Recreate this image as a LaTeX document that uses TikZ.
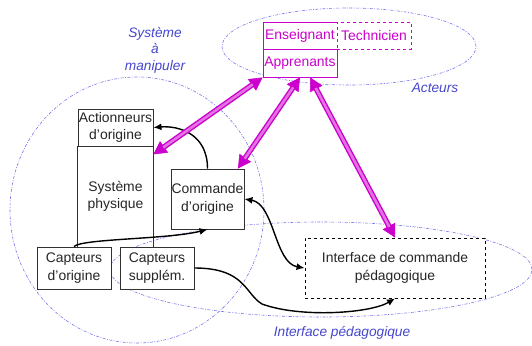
\documentclass[tikz,border=0pt]{standalone}
\usepackage{fontspec}
\setmainfont{Liberation Sans}
\usetikzlibrary{arrows.meta,calc}
\definecolor{mag}{RGB}{204,0,204}
\definecolor{lblue}{RGB}{70,70,205}
\definecolor{eblue}{RGB}{120,120,235}
\definecolor{boxgray}{RGB}{50,50,50}
\tikzset{
  zone/.style={draw=eblue, line width=0.6pt, dash pattern=on 3pt off 1.5pt on 0.8pt off 1.5pt},
  zlabel/.style={text=lblue, font=\fontsize{13.7}{16.5}\selectfont\itshape, align=center, inner sep=0pt},
  blk/.style={draw=boxgray, line width=0.9pt, fill=white, inner sep=0pt, align=center,
              text=black!85, font=\fontsize{13.9}{17.5}\selectfont},
  actbox/.style={draw=mag, line width=0.9pt, fill=white, inner sep=0pt, text=mag,
              font=\fontsize{13.9}{17}\selectfont, minimum width=74pt},
  conn/.style={draw=black, line width=1.4pt, -{Latex[length=8pt,width=7pt]}},
  bconn/.style={draw=black, line width=1.4pt, {Latex[length=8pt,width=7pt]}-{Latex[length=8pt,width=7pt]}},
  magtip/.style={draw=mag, line width=0.6pt, {Triangle[length=13pt,width=14pt]}-{Triangle[length=13pt,width=14pt]}},
  magshaft/.style={draw=mag, double=mag!55!white, line width=1.4pt, double distance=2.6pt,
              shorten <=12pt, shorten >=12pt}
}
\newcommand\magarrow[2]{%
  \draw[magtip] (#1) -- (#2);
  \draw[magshaft] (#1) -- (#2);}
\begin{document}
\begin{tikzpicture}[x=1pt,y=1pt]
\useasboundingbox (0,0) rectangle (532,-345);
% zones
\draw[zone] (137,-210) ellipse [x radius=127, y radius=133];
\draw[zone] (321,-269.5) ellipse [x radius=211, y radius=47.5];
\draw[zone] (349,-46.5) ellipse [x radius=127, y radius=38.5];
% zone labels
\node[zlabel] (lsys) at (155,-50) {Système\\à\\manipuler};
\node[zlabel] (lact) at (435,-88) {Acteurs};
\node[zlabel] (lip) at (342,-333) {Interface pédagogique};
% boxes
\node[blk, minimum width=75pt, minimum height=37pt] (act) at (115.5,-127.5) {Actionneurs\\d’origine};
\node[blk, draw=none, fill=none, minimum width=75pt, minimum height=101pt] (phys) at (115.5,-196.5) {Système\\physique};
\draw[boxgray, line width=0.9pt] (phys.north west) -- (phys.south west)
      (phys.north east) -- (phys.south east);
\node[blk, minimum width=73pt, minimum height=60pt] (cmd) at (207.5,-199) {Commande\\d’origine};
\node[blk, minimum width=74pt, minimum height=42pt] (co) at (74,-268) {Capteurs\\d’origine};
\node[blk, minimum width=74pt, minimum height=42pt] (cs) at (157,-268) {Capteurs\\supplém.};
\node[blk, dashed, draw=black, minimum width=180pt, minimum height=60pt] (icp) at (395,-268) {Interface de commande\\pédagogique};
% actors
\node[actbox, minimum height=27pt] (ens) at (300,-35.5) {Enseignant};
\node[actbox, dashed, minimum height=27pt] (tech) at (374,-35.5) {Technicien};
\node[actbox, minimum height=28pt] (app) at (300,-63) {Apprenants};
% black connectors
\draw[conn] (cmd.north) .. controls +(0,35) and +(25,2) .. (act.east);
\draw[conn] (co.north) .. controls +(8,8) and +(-40,-10) .. (cmd.south);
\draw[bconn] (cmd.east) .. controls +(30,-5) and +(-30,5) .. (icp.west);
\coordinate (bend) at (262,-304);
\draw[conn] (cs.east) .. controls +(51,0) and +(-17,10) .. (bend)
            .. controls +(38,-14) and +(-25,-15) .. (icp.south);
% magenta arrows
\magarrow{app.south west}{phys.48}
\magarrow{app.south}{cmd.45}
\magarrow{app.-55}{icp.north}
\end{tikzpicture}
\end{document}
